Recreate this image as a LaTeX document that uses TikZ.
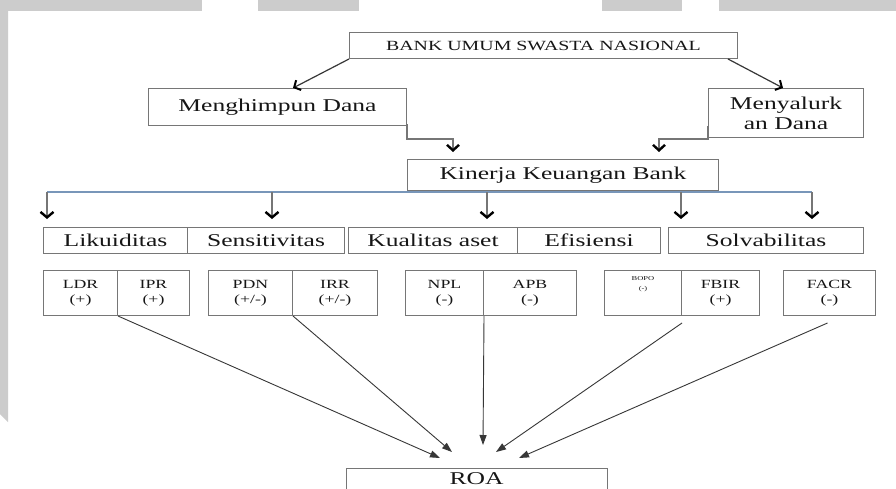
\documentclass[tikz,border=0pt]{standalone}
\usepackage{fontspec}
\setmainfont{Liberation Serif}
\newfontfamily\wf[FakeStretch=1.42]{Liberation Serif}
\usetikzlibrary{arrows.meta,calc}
\definecolor{boxgray}{RGB}{118,118,118}
\definecolor{txt}{RGB}{22,22,22}
\definecolor{deco}{RGB}{204,204,204}
\definecolor{hlcol}{RGB}{120,150,185}
\definecolor{conn}{RGB}{55,55,55}
\begin{document}
\begin{tikzpicture}[x=1pt,y=-1pt,
  box/.style={draw=boxgray, line width=1pt, inner sep=0pt, anchor=north west, text=txt},
  big/.style={font=\wf\fontsize{18}{20}\selectfont},
  ind/.style={font=\wf\fontsize{12.5}{15}\selectfont, align=center},
  chev/.style={draw=boxgray, line width=1.2pt, -{Straight Barb[length=5.5pt,width=13pt,line width=2.4pt,color=black]}},
  elb/.style={draw=boxgray, line width=1.4pt, -{Straight Barb[length=5.5pt,width=12pt,line width=2.4pt,color=black]}},
  diag/.style={draw=conn, line width=1.2pt, -{Straight Barb[length=5pt,width=11pt,line width=2pt,color=black]}},
  toroa/.style={draw=conn, line width=0.9pt, -{Triangle[length=10pt,width=7pt]}},
]
\path[use as bounding box] (0,0) rectangle (896,488);
\clip (0,0) rectangle (896,488);
\fill[white] (0,0) rectangle (896,488);
% grey page decorations
\fill[deco] (0,0) rectangle (202,11);
\fill[deco] (258,0) rectangle (359,11);
\fill[deco] (602,0) rectangle (682,11);
\fill[deco] (719,0) rectangle (896,11);
\fill[deco] (0,0) -- (8,0) -- (8,422) -- (0,414) -- cycle;

% top boxes
\node[box, minimum width=388, minimum height=26, font=\wf\fontsize{14}{16}\selectfont] (bank) at (349,32) {BANK UMUM SWASTA NASIONAL};
\node[box, big, minimum width=258, minimum height=37] (hp) at (148,88) {\raisebox{3pt}{Menghimpun Dana}};
\node[box, big, minimum width=155, minimum height=49, align=center] (sl) at (708,88) {Menyalurk\\an Dana};
\node[box, big, minimum width=311, minimum height=31] (kin) at (407,159) {Kinerja Keuangan Bank};

% category row
\node[box, big, minimum width=144, minimum height=26] (liku) at (43,227) {Likuiditas};
\node[box, big, minimum width=157, minimum height=26] (sens) at (187,227) {Sensitivitas};
\node[box, big, minimum width=169, minimum height=26] (kual) at (348,227) {Kualitas aset};
\node[box, big, minimum width=143, minimum height=26] (efis) at (517,227) {Efisiensi};
\node[box, big, minimum width=195, minimum height=26] (solv) at (668,227) {Solvabilitas};

% indicator boxes
\node[box, ind, minimum width=74, minimum height=45] (ldr) at (43,270) {LDR\\(+)};
\node[box, ind, minimum width=72, minimum height=45] (ipr) at (117,270) {IPR\\(+)};
\node[box, ind, minimum width=84, minimum height=45] (pdn) at (208,270) {PDN\\(+/-)};
\node[box, ind, minimum width=85, minimum height=45] (irr) at (292,270) {IRR\\(+/-)};
\node[box, ind, minimum width=78, minimum height=45] (npl) at (405,270) {NPL\\(-)};
\node[box, ind, minimum width=93, minimum height=45] (apb) at (483,270) {APB\\(-)};
\node[box, minimum width=77, minimum height=45] (bopo) at (604,270) {};
\node[font=\wf\fontsize{6}{10}\selectfont, align=center, anchor=north, inner sep=0pt, text=txt] (bopot) at ($(bopo.north)+(0,6)$) {BOPO\\(-)};
\node[box, ind, minimum width=78, minimum height=45] (fbir) at (681,270) {FBIR\\(+)};
\node[box, ind, minimum width=92, minimum height=45] (facr) at (783,270) {FACR\\(-)};

% ROA (box runs off the lower edge)
\node[box, draw=none, big, minimum width=260, minimum height=20] (roa) at (346,468) {ROA};
\draw[boxgray, line width=1pt] ($(roa.south west)+(0,4)$) -- (roa.north west) -- (roa.north east) -- ($(roa.south east)+(0,4)$);

% BANK -> branches
\draw[diag] (bank.south west) -- ($(hp.north west)+(145,0)$);
\draw[diag] ($(bank.south east)+(-10,0)$) -- ($(sl.north west)+(75,0)$);

% branches -> Kinerja
\coordinate (e1) at ($(kin.north west)+(46,-7)$);
\coordinate (e2) at ($(kin.north west)+(252,-7)$);
\draw[elb] ($(hp.south east)+(0,-2)$) -- ++(0,15) -| (e1);
\draw[elb] ($(sl.south west)+(0,-12)$) -- ++(0,13) -| (e2);

% distribution line
\coordinate (h1) at (47,192);
\coordinate (h2) at (272,192);
\coordinate (h3) at (487,192);
\coordinate (h4) at (681,192);
\coordinate (h5) at (812,192);
\draw[hlcol, line width=1.1pt] (h1) -- (h5);
\coordinate (d1) at ($(liku.north west)+(4,-8)$);
\coordinate (d2) at ($(sens.north west)+(85,-8)$);
\coordinate (d3) at ($(kual.north west)+(139,-8)$);
\coordinate (d4) at ($(solv.north west)+(13,-8)$);
\coordinate (d5) at ($(solv.north west)+(144,-8)$);
\draw[chev] (h1) -- (d1);
\draw[chev] (h2) -- (d2);
\draw[chev] (h3) -- (d3);
\draw[chev] (h4) -- (d4);
\draw[chev] (h5) -- (d5);

% indicators -> ROA
\draw[toroa] (ldr.south east) -- ($(roa.north west)+(94,-10)$);
\draw[toroa] (pdn.south east) -- ($(roa.north west)+(106,-16)$);
\draw[toroa] (npl.south east) -- ($(roa.north west)+(137,-23)$);
\draw[toroa] ($(bopo.south east)+(0,7)$) -- ($(roa.north west)+(150,-16)$);
\draw[toroa] ($(facr.south)+(-2,7)$) -- ($(roa.north west)+(173,-10)$);
\end{tikzpicture}
\end{document}
